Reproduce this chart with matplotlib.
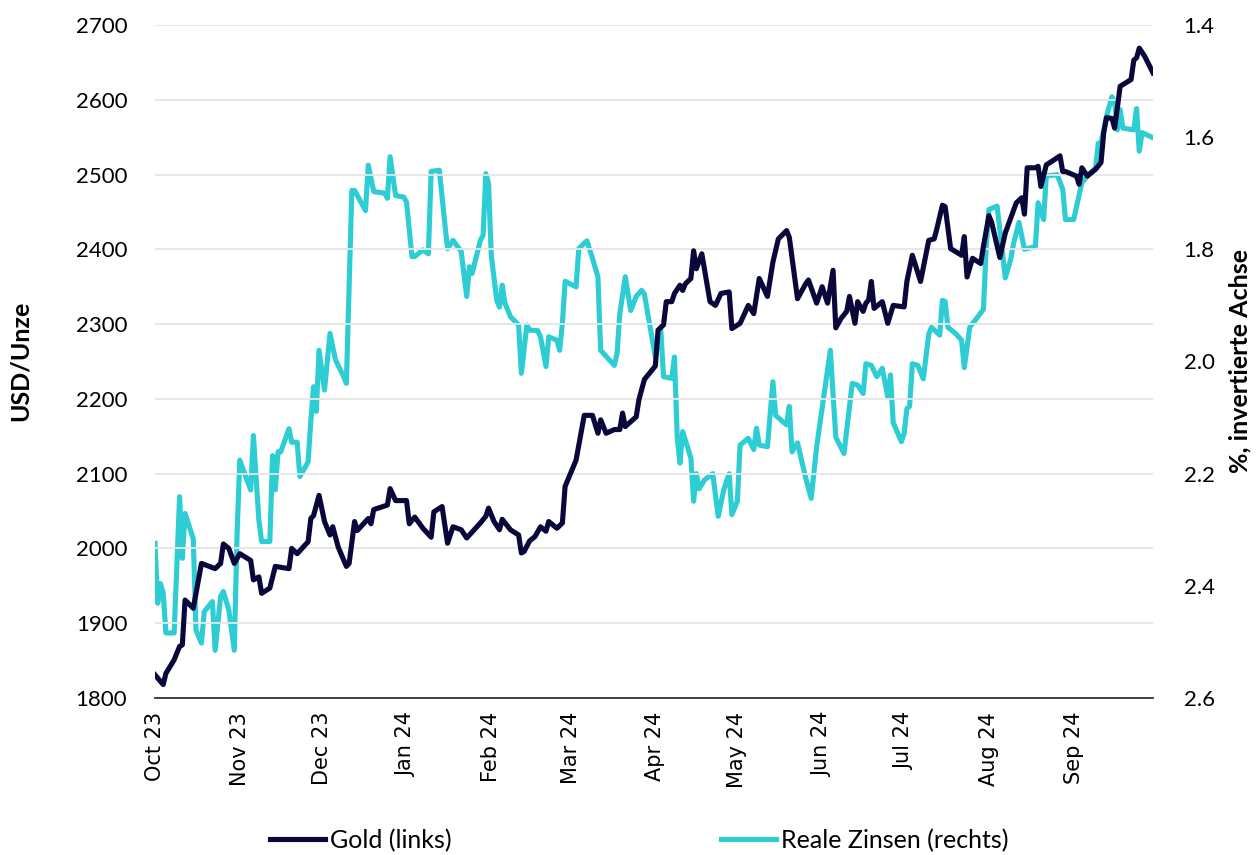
import pandas as pd
import matplotlib.pyplot as plt
import matplotlib.dates as mdates
from matplotlib.ticker import MultipleLocator, FormatStrFormatter

# days counted from 2023-10-01
gold_day = [0, 3, 4, 7, 9, 10, 11, 14, 17, 22, 24, 25, 27, 29, 31, 35, 36, 38, 39, 42,
            44, 49, 50, 52, 56, 57, 58, 60, 62, 64, 65, 67, 70, 71, 73, 74, 78, 79, 80, 85,
            86, 88, 92, 93, 95, 98, 101, 102, 105, 107, 109, 112, 114, 119, 121, 122, 124, 126, 127, 130,
            133, 134, 135, 137, 139, 141, 143, 144, 147, 149, 150, 154, 157, 160, 162, 163, 165, 168, 170, 171,
            172, 176, 177, 179, 181, 183, 184, 186, 187, 189, 190, 192, 193, 194, 196, 197, 198, 200, 203, 205,
            207, 210, 211, 214, 217, 219, 221, 224, 226, 228, 231, 232, 235, 238, 239, 242, 244, 246, 248, 249,
            251, 253, 254, 256, 257, 259, 260, 261, 262, 263, 266, 268, 270, 274, 275, 277, 280, 283, 285, 286,
            288, 289, 291, 295, 296, 297, 299, 302, 303, 305, 306, 309, 311, 315, 317, 318, 319, 322, 323, 324,
            326, 329, 331, 332, 333, 337, 338, 339, 341, 344, 346, 347, 348, 350, 351, 353, 357, 358, 359, 360,
            362, 365]
gold = [1831, 1818, 1833, 1851, 1869, 1871, 1931, 1920, 1980, 1973, 1980, 2006, 2000, 1980, 1993, 1984, 1958, 1962, 1940, 1947,
        1976, 1973, 2000, 1993, 2009, 2040, 2044, 2071, 2036, 2018, 2029, 2002, 1976, 1980, 2036, 2024, 2040, 2033, 2052, 2058,
        2080, 2064, 2064, 2033, 2042, 2027, 2015, 2049, 2056, 2007, 2029, 2025, 2014, 2034, 2043, 2054, 2036, 2025, 2039, 2025,
        2018, 1994, 1996, 2010, 2016, 2029, 2023, 2036, 2027, 2034, 2083, 2118, 2178, 2178, 2154, 2172, 2154, 2159, 2159, 2181,
        2163, 2176, 2199, 2226, 2235, 2244, 2292, 2299, 2330, 2330, 2341, 2352, 2345, 2354, 2361, 2398, 2374, 2394, 2330, 2325,
        2341, 2343, 2294, 2301, 2325, 2314, 2361, 2337, 2383, 2414, 2425, 2416, 2334, 2354, 2359, 2328, 2350, 2328, 2372, 2295,
        2308, 2317, 2337, 2301, 2330, 2317, 2328, 2332, 2357, 2321, 2330, 2301, 2325, 2323, 2357, 2392, 2357, 2412, 2414, 2428,
        2459, 2457, 2401, 2392, 2417, 2363, 2388, 2381, 2404, 2445, 2436, 2389, 2422, 2462, 2469, 2447, 2509, 2509, 2511, 2484,
        2513, 2520, 2525, 2504, 2504, 2498, 2487, 2509, 2498, 2507, 2516, 2556, 2576, 2575, 2562, 2618, 2627, 2653, 2656, 2669,
        2658, 2636]

rate_day = [0, 1, 2, 3, 4, 7, 9, 10, 11, 14, 15, 17, 18, 21, 22, 24, 25, 27, 29, 30,
            31, 35, 36, 38, 39, 42, 43, 44, 45, 46, 49, 50, 52, 53, 56, 57, 58, 59, 60, 62,
            64, 66, 69, 70, 72, 73, 77, 78, 80, 84, 85, 86, 88, 91, 92, 94, 95, 98, 100, 101,
            104, 106, 107, 109, 112, 114, 115, 116, 119, 120, 121, 122, 123, 125, 126, 127, 128, 130, 133, 134,
            136, 137, 140, 141, 143, 144, 147, 148, 149, 150, 154, 155, 157, 158, 160, 162, 163, 168, 169, 170,
            172, 174, 176, 178, 179, 183, 185, 186, 189, 190, 191, 192, 193, 196, 197, 198, 199, 201, 204, 206,
            208, 210, 211, 213, 214, 217, 219, 220, 221, 224, 226, 227, 231, 232, 233, 235, 238, 240, 242, 247,
            249, 252, 255, 257, 259, 260, 262, 264, 266, 268, 269, 270, 273, 274, 275, 276, 277, 279, 281, 283,
            284, 287, 288, 289, 290, 293, 295, 296, 298, 301, 303, 304, 305, 308, 311, 313, 314, 316, 318, 322,
            323, 325, 326, 330, 332, 333, 336, 339, 342, 344, 345, 346, 348, 350, 351, 352, 353, 354, 358, 359,
            360, 361, 365]
rate = [2.324, 2.431, 2.396, 2.413, 2.484, 2.484, 2.241, 2.351, 2.271, 2.316, 2.479, 2.502, 2.446, 2.428, 2.515, 2.419, 2.410, 2.443, 2.515, 2.312,
        2.176, 2.229, 2.132, 2.283, 2.321, 2.321, 2.168, 2.229, 2.161, 2.161, 2.120, 2.144, 2.144, 2.205, 2.179, 2.105, 2.045, 2.089, 1.980, 2.051,
        1.950, 1.997, 2.027, 2.039, 1.695, 1.695, 1.731, 1.650, 1.697, 1.700, 1.709, 1.635, 1.704, 1.707, 1.716, 1.813, 1.813, 1.801, 1.808, 1.661,
        1.659, 1.754, 1.799, 1.784, 1.804, 1.884, 1.831, 1.843, 1.784, 1.775, 1.665, 1.683, 1.811, 1.891, 1.903, 1.864, 1.896, 1.920, 1.935, 2.021,
        1.935, 1.944, 1.945, 1.956, 2.009, 1.956, 1.962, 1.980, 1.932, 1.857, 1.867, 1.799, 1.789, 1.785, 1.816, 1.849, 1.980, 2.007, 1.985, 1.915,
        1.849, 1.909, 1.884, 1.873, 1.880, 1.992, 1.944, 2.027, 2.030, 1.992, 2.135, 2.181, 2.125, 2.172, 2.249, 2.200, 2.227, 2.211, 2.200, 2.276,
        2.229, 2.200, 2.273, 2.249, 2.149, 2.137, 2.157, 2.119, 2.149, 2.152, 2.036, 2.096, 2.113, 2.080, 2.161, 2.145, 2.208, 2.244, 2.152, 1.980,
        2.135, 2.164, 2.039, 2.042, 2.057, 2.004, 2.007, 2.027, 2.012, 2.063, 2.024, 2.109, 2.143, 2.128, 2.084, 2.080, 2.004, 2.007, 2.031, 1.951,
        1.939, 1.953, 1.891, 1.893, 1.939, 1.951, 1.962, 2.011, 1.939, 1.920, 1.907, 1.797, 1.729, 1.723, 1.851, 1.817, 1.790, 1.752, 1.800, 1.795,
        1.717, 1.747, 1.669, 1.667, 1.693, 1.747, 1.747, 1.681, 1.664, 1.655, 1.611, 1.611, 1.563, 1.528, 1.539, 1.587, 1.551, 1.584, 1.587, 1.549,
        1.625, 1.592, 1.601]

start = pd.Timestamp("2023-10-01")
gold_dates = start + pd.to_timedelta(gold_day, unit="D")
rate_dates = start + pd.to_timedelta(rate_day, unit="D")

navy = "#0a083a"
cyan = "#2ecdd4"
font = "Lato"

fig = plt.figure(figsize=(12.58, 8.55), dpi=100)
ax = fig.add_axes([0.1232, 0.1836, 0.7933, 0.7872])
ax2 = ax.twinx()

ax2.plot(rate_dates, rate, color=cyan, lw=3.7, label="Reale Zinsen (rechts)", solid_joinstyle="round")
ax.plot(gold_dates, gold, color=navy, lw=3.7, label="Gold (links)", solid_joinstyle="round")
ax.set_zorder(ax2.get_zorder() + 1)
ax.patch.set_visible(False)

ax.set_xlim(start, start + pd.Timedelta(days=365))
ax.set_ylim(1800, 2700)
ax.yaxis.set_major_locator(MultipleLocator(100))
ax2.set_ylim(2.6, 1.4)
ax2.yaxis.set_major_locator(MultipleLocator(0.2))
ax2.yaxis.set_major_formatter(FormatStrFormatter("%.1f"))

ax.grid(axis="y", color="#e5e5e5", lw=1.3)
ax.set_axisbelow(True)

for a in (ax, ax2):
    for s in a.spines.values():
        s.set_visible(False)
    a.tick_params(length=0, labelsize=16)
ax.spines["bottom"].set_visible(True)
ax.spines["bottom"].set_color("#333333")
ax.spines["bottom"].set_linewidth(1.3)

for lab in ax.get_yticklabels() + ax2.get_yticklabels():
    lab.set_fontfamily(font)
ax.tick_params(axis="y", pad=20)
ax2.tick_params(axis="y", pad=22)

ax.xaxis.set_major_locator(mdates.MonthLocator())
ax.xaxis.set_major_formatter(mdates.DateFormatter("%b %y"))
ax.tick_params(axis="x", labelrotation=90, labelsize=15, pad=10)

fig.text(0.016, 0.578, "USD/Unze", rotation=90, ha="center", va="center",
         fontsize=18, fontweight="bold", family=font)
fig.text(0.986, 0.578, "%, invertierte Achse", rotation=90, ha="center", va="center",
         fontsize=18, fontweight="bold", family=font)

h1, l1 = ax.get_legend_handles_labels()
h2, l2 = ax2.get_legend_handles_labels()
fig.legend(h1 + h2, l1 + l2, loc="center", bbox_to_anchor=(0.508, 0.017), ncol=2,
           frameon=False, prop={"family": font, "size": 18}, handlelength=2.2,
           handletextpad=0.2, columnspacing=10.8)

fig.savefig("out.png", dpi=100)
